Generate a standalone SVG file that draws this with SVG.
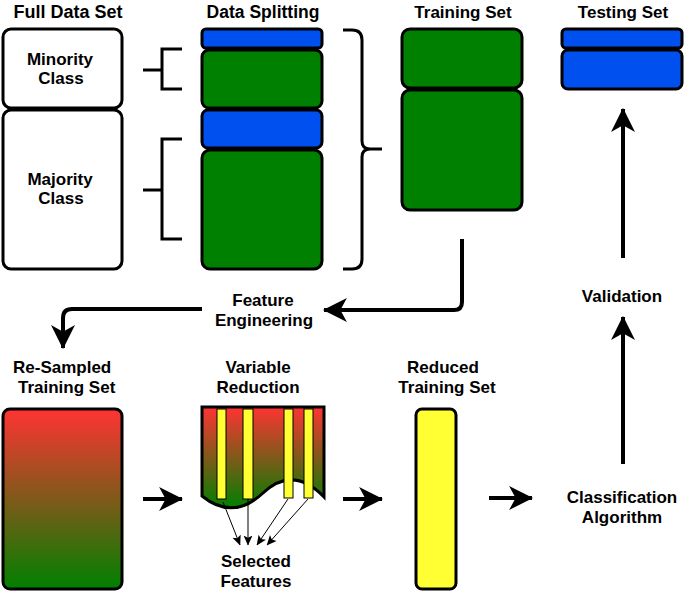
<svg xmlns="http://www.w3.org/2000/svg" width="684" height="592" viewBox="0 0 684 592">
<style>
text{font-family:"Liberation Sans",Arial,sans-serif;font-weight:bold;font-size:17px;fill:#000;text-anchor:middle}
.box{stroke:#000;stroke-width:3}
.white{fill:#fff}
.green{fill:#008000}
.blue{fill:#0050EF}
.yellow{fill:#FFFF33}
.conn{fill:none;stroke:#000;stroke-width:4}
.brk{fill:none;stroke:#000;stroke-width:3}
.thin{fill:none;stroke:#000;stroke-width:1}
</style>
<defs>
<linearGradient id="rg" x1="0" y1="0" x2="0" y2="1">
<stop offset="0" stop-color="#FF3333"/>
<stop offset="1" stop-color="#008000"/>
</linearGradient>
<marker id="ah" markerUnits="userSpaceOnUse" markerWidth="24" markerHeight="24" viewBox="0 0 22 22" refX="21" refY="11" orient="auto">
<path d="M0,0 L22,11 L0,22 L6,11 Z" fill="#000"/>
</marker>
<marker id="ahs" markerUnits="userSpaceOnUse" markerWidth="10" markerHeight="10" viewBox="0 0 9 8" refX="8.5" refY="4" orient="auto">
<path d="M0,0 L9,4 L0,8 L2,4 Z" fill="#000"/>
</marker>
</defs>

<g id="full-data-set">
<text x="68" y="18" style="font-size:18px">Full Data Set</text>
<rect class="box white" x="3" y="29" width="119" height="79" rx="8"/>
<text x="60" y="65">Minority</text>
<text x="61" y="84">Class</text>
<rect class="box white" x="3" y="110" width="119" height="159" rx="8"/>
<text x="60" y="185">Majority</text>
<text x="61" y="204">Class</text>
</g>

<g id="data-splitting">
<text x="263" y="18" style="font-size:17.5px">Data Splitting</text>
<rect class="box blue" x="202" y="29" width="120" height="19" rx="4"/>
<rect class="box green" x="202" y="50" width="120" height="58" rx="7"/>
<rect class="box blue" x="202" y="110" width="120" height="38" rx="6"/>
<rect class="box green" x="202" y="150" width="120" height="119" rx="8"/>
</g>

<g id="brackets">
<path class="brk" d="M143,70 H162 M182,49 H162 V89 H182"/>
<path class="brk" d="M143,190 H162 M182,139 H162 V239 H182"/>
<path class="brk" d="M343,30 H352 Q362,30 362,40 V141 Q362,149 370,149 H382 M370,149 Q362,149 362,157 V259 Q362,269 352,269 H343"/>
</g>

<g id="training-set">
<text x="463" y="18">Training Set</text>
<rect class="box green" x="402" y="29" width="120" height="59" rx="8"/>
<rect class="box green" x="402" y="90" width="120" height="120" rx="8"/>
</g>

<g id="testing-set">
<text x="623" y="18">Testing Set</text>
<rect class="box blue" x="562" y="29" width="120" height="19" rx="4"/>
<rect class="box blue" x="562" y="50" width="120" height="39" rx="6"/>
</g>

<g id="feature-engineering">
<text x="263" y="306">Feature</text>
<text x="264" y="326">Engineering</text>
</g>

<g id="resampled-training-set">
<text x="13" y="373" style="text-anchor:start">Re-Sampled</text>
<text x="18" y="393" style="text-anchor:start">Training Set</text>
<rect class="box" fill="url(#rg)" x="3" y="409" width="119" height="180" rx="7"/>
</g>

<g id="variable-reduction">
<text x="258" y="373">Variable</text>
<text x="258" y="393">Reduction</text>
<path class="box" fill="url(#rg)" d="M202,407 H324 V497 Q293,465 263,493 Q233,521 202,496 Z"/>
<rect x="217" y="409" width="9" height="90" class="yellow" stroke="#000" stroke-width="1"/>
<rect x="243" y="409" width="10" height="90" class="yellow" stroke="#000" stroke-width="1"/>
<rect x="284" y="409" width="9" height="89" class="yellow" stroke="#000" stroke-width="1"/>
<rect x="304" y="409" width="9" height="89" class="yellow" stroke="#000" stroke-width="1"/>
<path class="thin" marker-end="url(#ahs)" d="M223,502 L240,545"/>
<path class="thin" marker-end="url(#ahs)" d="M248,499 L248,545"/>
<path class="thin" marker-end="url(#ahs)" d="M288,499 L257,545"/>
<path class="thin" marker-end="url(#ahs)" d="M308,499 L267,545"/>
</g>

<g id="selected-features">
<text x="256" y="567">Selected</text>
<text x="256" y="587">Features</text>
</g>

<g id="reduced-training-set">
<text x="443" y="373">Reduced</text>
<text x="447" y="393">Training Set</text>
<rect class="box yellow" x="416" y="409" width="40" height="180" rx="6"/>
</g>

<g id="classification-algorithm">
<text x="622" y="503">Classification</text>
<text x="622" y="523">Algorithm</text>
</g>

<g id="validation">
<text x="622" y="302">Validation</text>
</g>

<g id="connectors">
<path class="conn" marker-end="url(#ah)" d="M462,239 V302 Q462,310 454,310 H324"/>
<path class="conn" marker-end="url(#ah)" d="M202,309 H72 Q63,309 63,318 V348"/>
<path class="conn" marker-end="url(#ah)" d="M143,499 H182"/>
<path class="conn" marker-end="url(#ah)" d="M343,499 H382"/>
<path class="conn" marker-end="url(#ah)" d="M489,498 H532"/>
<path class="conn" marker-end="url(#ah)" d="M623,464 V317"/>
<path class="conn" marker-end="url(#ah)" d="M623,258 V109"/>
</g>
</svg>
